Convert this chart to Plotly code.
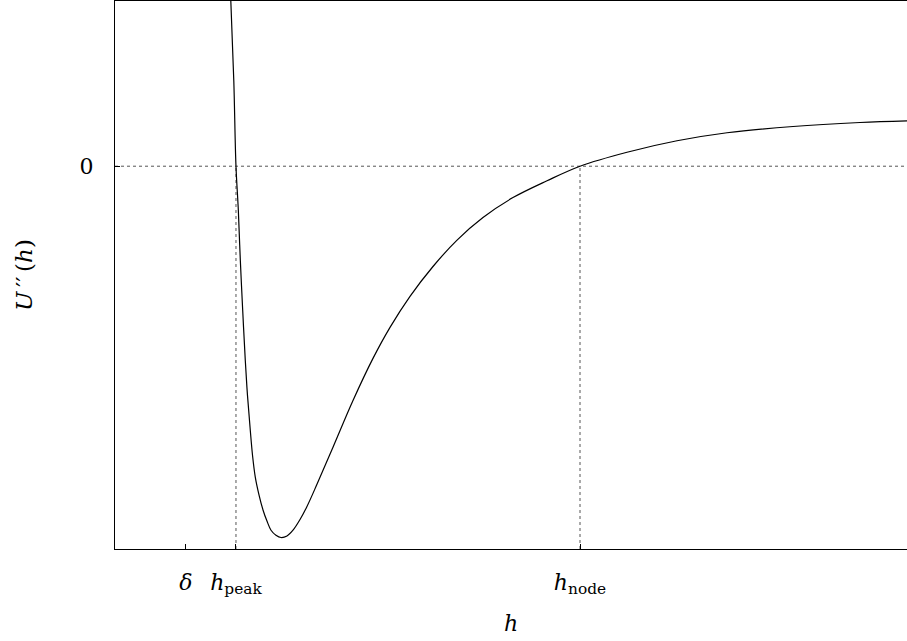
import plotly.graph_objects as go

# Curve U''(h) (arbitrary units)
h_vals = [1.168, 1.200, 1.222, 1.246, 1.266, 1.290, 1.316, 1.338, 1.364, 1.389,
          1.417, 1.455, 1.495, 1.535, 1.576, 1.626, 1.677, 1.737, 1.798, 1.869,
          1.939, 2.040, 2.202, 2.404, 2.606, 2.778, 2.980, 3.212, 3.455, 3.717,
          4.020, 4.364, 4.697, 5.172, 5.677, 6.182, 6.849, 7.525, 8.0]
u_vals = [0.445, 0.223, 0.0, -0.116, -0.246, -0.377, -0.507, -0.598, -0.682, -0.755,
          -0.812, -0.859, -0.898, -0.927, -0.951, -0.964, -0.970, -0.966, -0.951, -0.923,
          -0.889, -0.831, -0.734, -0.612, -0.502, -0.421, -0.340, -0.262, -0.193, -0.134,
          -0.082, -0.038, 0.0, 0.0365, 0.0665, 0.0874, 0.1038, 0.1142, 0.1186]

# Special positions on the h axis
tick_names = ["delta", "h_peak", "h_node"]
tick_vals = [0.717, 1.222, 4.697]
tick_text = ["<i>δ</i>", "<i>h</i><sub>peak</sub>", "<i>h</i><sub>node</sub>"]
y_tick_vals = [0]
y_tick_text = ["0"]

x_range = [0, 8]
y_range = [-1.0, 0.4316]

FONT = "DejaVu Serif"

fig = go.Figure()
fig.add_trace(go.Scatter(x=h_vals, y=u_vals, mode="lines",
                         line=dict(color="black", width=1.2, shape="spline", smoothing=1.0),
                         showlegend=False, hoverinfo="skip"))

dot = dict(color="#555555", width=1, dash="dot")
# horizontal zero line
fig.add_shape(type="line", xref="x", yref="y", x0=x_range[0], x1=x_range[1], y0=0, y1=0, line=dot, layer="below")
# vertical markers at h_peak and h_node
for xv in tick_vals[1:]:
    fig.add_shape(type="line", xref="x", yref="y", x0=xv, x1=xv, y0=y_range[0], y1=0, line=dot, layer="below")

fig.update_layout(
    width=907, height=641,
    margin=dict(l=115, r=0, t=1, b=92),
    paper_bgcolor="white", plot_bgcolor="white",
    font=dict(family=FONT, size=22, color="black"),
    xaxis=dict(range=x_range, showgrid=False, zeroline=False,
               showline=True, linecolor="black", linewidth=1.3, mirror=True,
               ticks="inside", ticklen=5, tickcolor="black", tickwidth=1.3,
               tickvals=tick_vals, ticktext=tick_text, ticklabelstandoff=13,
               tickfont=dict(size=22),
               title=dict(text="<i>h</i>", standoff=18, font=dict(size=22))),
    yaxis=dict(range=y_range, showgrid=False, zeroline=False,
               showline=True, linecolor="black", linewidth=1.3, mirror=False,
               ticks="inside", ticklen=5, tickcolor="black", tickwidth=1.3,
               tickvals=y_tick_vals, ticktext=y_tick_text, ticklabelstandoff=16,
               tickfont=dict(size=22),
               title=dict(text="<i>U</i>\u2009′′\u2009(<i>h</i>)", standoff=40, font=dict(size=23))),
)

fig.write_html("out.html")
